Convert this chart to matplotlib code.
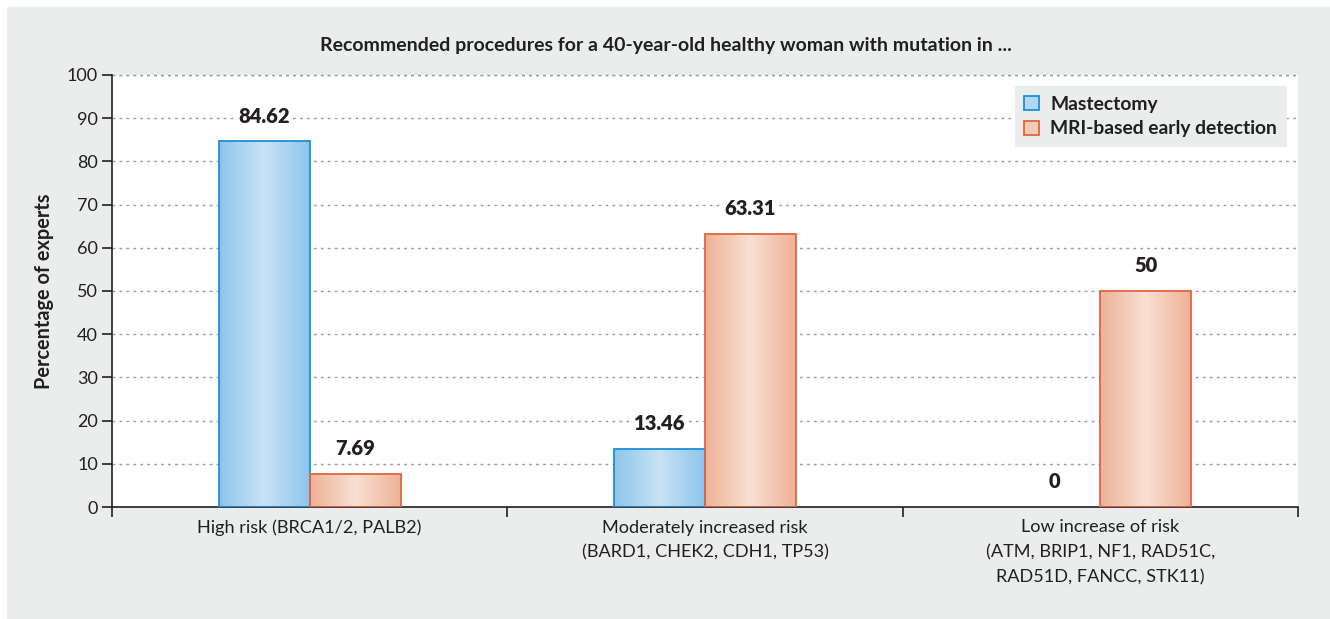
import matplotlib
matplotlib.use("Agg")
import matplotlib.pyplot as plt
import numpy as np
from matplotlib.patches import Rectangle, Patch
from matplotlib.colors import LinearSegmentedColormap

categories = ["High risk (BRCA1/2, PALB2)",
              "Moderately increased risk\n(BARD1, CHEK2, CDH1, TP53)",
              "Low increase of risk\n(ATM, BRIP1, NF1, RAD51C,\nRAD51D, FANCC, STK11)"]
series_names = ["Mastectomy", "MRI-based early detection"]
mastectomy = [84.62, 13.46, 0]
mri = [7.69, 63.31, 50]
value_labels_m = ["84.62", "13.46", "0"]
value_labels_r = ["7.69", "63.31", "50"]
yticks = [0, 10, 20, 30, 40, 50, 60, 70, 80, 90, 100]
title = "Recommended procedures for a 40-year-old healthy woman with mutation in ..."
ylabel = "Percentage of experts"

plt.rcParams['font.family'] = ['Lato', 'DejaVu Sans']
TXT = "#231f20"

fig = plt.figure(figsize=(13.30, 6.19), dpi=100)
fig.patch.set_facecolor("white")
fig.patches.append(Rectangle((7/1330, 0), 1 - 7/1330, 1 - 7/619, transform=fig.transFigure,
                             facecolor="#ebecec", edgecolor="none", zorder=-10))

ax = fig.add_axes([112/1330, 1 - 507/619, 1186/1330, 432/619])
ax.set_facecolor("white")
ax.set_xlim(0, 3)
ax.set_ylim(0, 100)

centers = np.arange(len(categories)) + 0.5
w = 0.23

blue_cmap = LinearSegmentedColormap.from_list("b", ["#8ec5ec", "#c9e2f5", "#8ec5ec"])
red_cmap = LinearSegmentedColormap.from_list("r", ["#edb297", "#f9e0d3", "#edb297"])
grad = np.linspace(0, 1, 256).reshape(1, -1)

def draw(xs, vals, cmap, edge):
    bars = ax.bar(xs, vals, width=w, facecolor="none", edgecolor=edge, linewidth=1.3, zorder=3)
    for b in bars:
        if b.get_height() <= 0:
            b.set_visible(False)
            continue
        x0, y0 = b.get_x(), b.get_y()
        im = ax.imshow(grad, cmap=cmap, aspect="auto", extent=[x0, x0 + b.get_width(), y0, y0 + b.get_height()],
                       zorder=2, interpolation="bicubic")
        im.set_clip_path(b)
    return bars

draw(centers - w/2, mastectomy, blue_cmap, "#1b8fd6")
draw(centers + w/2, mri, red_cmap, "#e0663f")
ax.set_xlim(0, 3)
ax.set_ylim(0, 100)

for x, v, s in zip(centers - w/2, mastectomy, value_labels_m):
    ax.text(x, v + 3.6, s, ha="center", va="bottom", fontsize=14.5, fontweight="heavy", color=TXT, zorder=5,
            bbox=dict(facecolor="white", edgecolor="none", pad=2))
for x, v, s in zip(centers + w/2, mri, value_labels_r):
    ax.text(x, v + 3.6, s, ha="center", va="bottom", fontsize=14.5, fontweight="heavy", color=TXT, zorder=5,
            bbox=dict(facecolor="white", edgecolor="none", pad=2))

ax.set_yticks(yticks)
ax.set_yticklabels([str(t) for t in yticks], fontsize=13, color=TXT)
ax.set_xticks([0, 1, 2, 3])
ax.set_xticklabels([])
ax.set_xticks(centers, minor=True)
ax.set_xticklabels(categories, minor=True, fontsize=13.1, color=TXT, linespacing=1.66)
ax.tick_params(axis="x", which="minor", length=0, pad=9)
ax.tick_params(axis="x", which="major", length=7, width=1.2, color="#231f20", direction="out")
ax.tick_params(axis="y", length=7, width=1.2, color="#231f20", direction="out", pad=3)

for sp in ["top", "right"]:
    ax.spines[sp].set_visible(False)
for sp in ["left", "bottom"]:
    ax.spines[sp].set_linewidth(1.2)
    ax.spines[sp].set_color("#231f20")

ax.yaxis.grid(True, linestyle=(0, (2, 3)), color="#9a9a9a", linewidth=1)
ax.set_axisbelow(True)
ax.axhline(100, linestyle=(0, (2, 3)), color="#9a9a9a", linewidth=1, clip_on=False, zorder=1)

ax.set_ylabel(ylabel, fontsize=14.3, fontweight="bold", color=TXT, labelpad=9)
fig.text(0.501, 1 - 45/619, title, ha="center", va="center", fontsize=14.0, fontweight="bold", color=TXT)

handles = [Patch(facecolor="#b4d7f1", edgecolor="#1b8fd6", linewidth=1.3),
           Patch(facecolor="#f4cbb8", edgecolor="#e0663f", linewidth=1.3)]
leg = ax.legend(handles, series_names, loc="upper right", bbox_to_anchor=(0.9907, 0.9745),
                borderaxespad=0, fancybox=False, frameon=True, prop=dict(size=13.9, weight="bold"),
                handlelength=0.75, handleheight=0.75, handletextpad=0.6, borderpad=0.5, labelspacing=0.4)
leg.get_frame().set_facecolor("#ebecec")
leg.get_frame().set_edgecolor("none")
leg.get_frame().set_alpha(1)
leg.set_zorder(6)
for t in leg.get_texts():
    t.set_color(TXT)

fig.savefig("out.png", dpi=100, facecolor=fig.get_facecolor())
